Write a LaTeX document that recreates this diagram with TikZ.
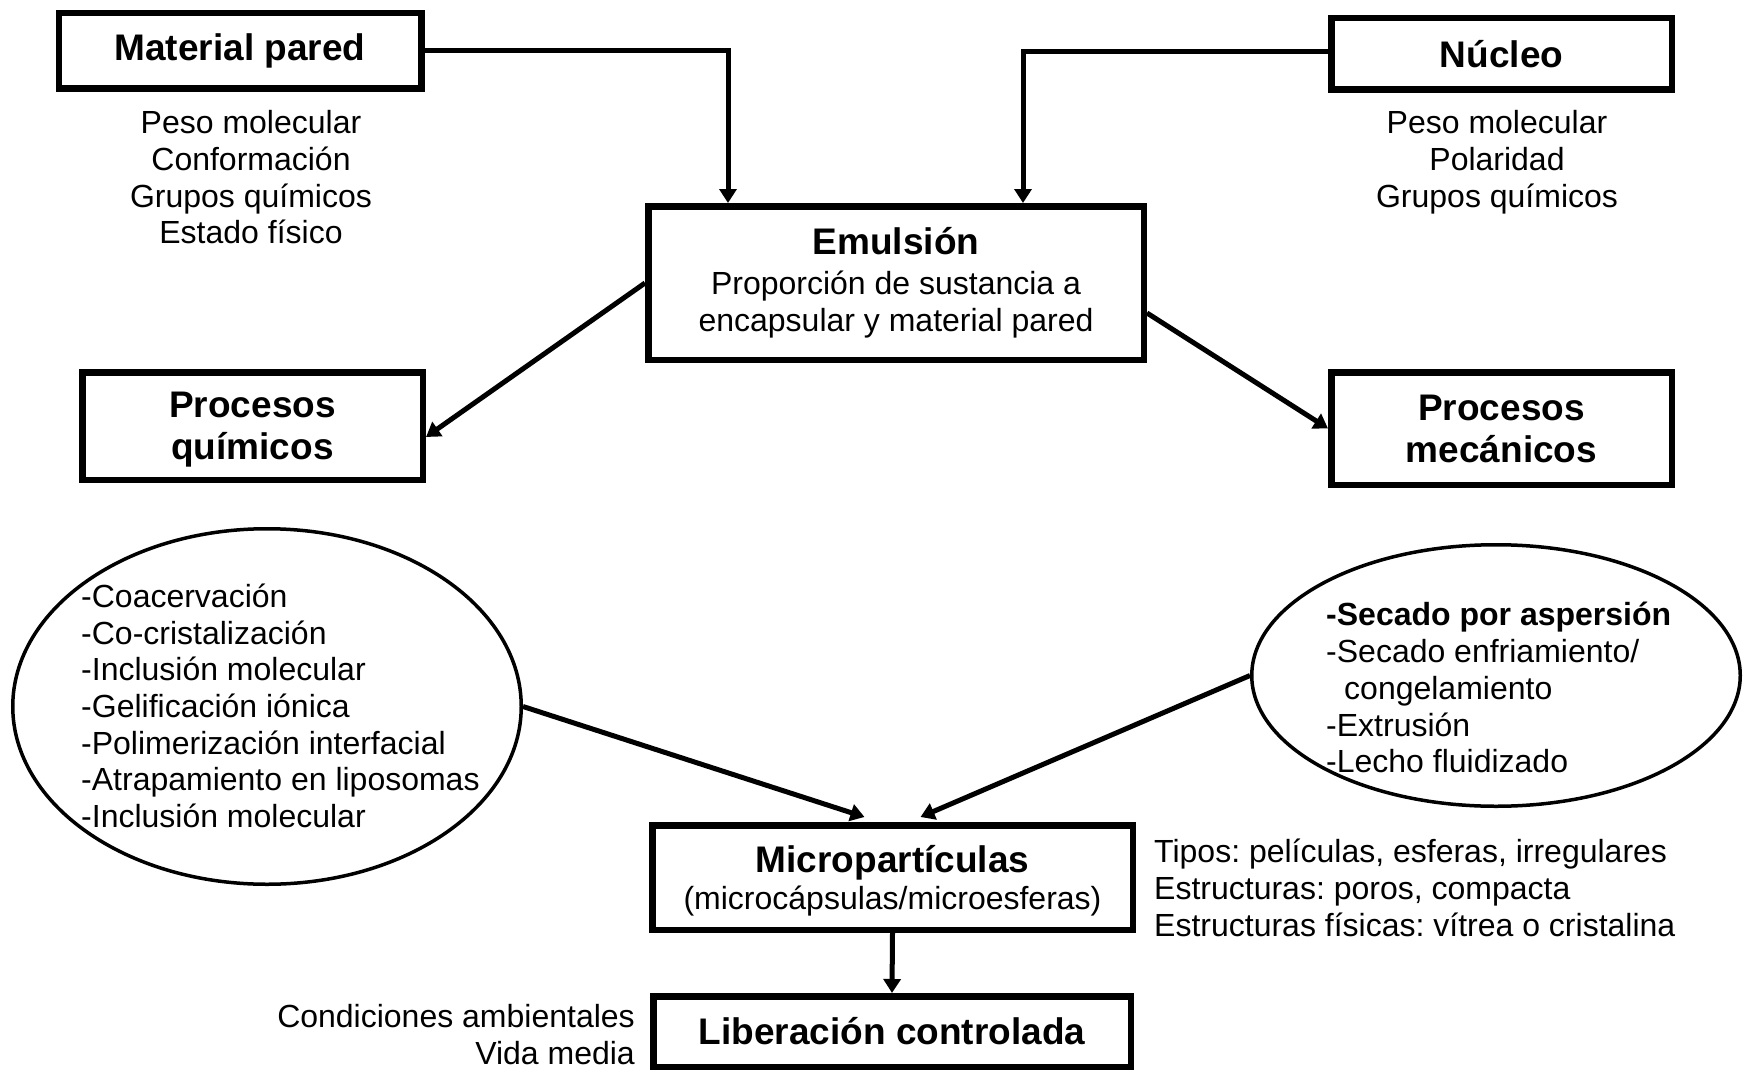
\documentclass[tikz,border=0pt]{standalone}
\usepackage{fontspec}
\setmainfont{Liberation Sans}
\frenchspacing
\usetikzlibrary{arrows.meta,shapes.geometric,calc}
\newcommand{\nodepth}[1]{\raisebox{0pt}[\height][0pt]{#1}}
\begin{document}
\begin{tikzpicture}[x=1pt,y=-1pt,
  box/.style={draw,line width=6.5pt,inner sep=0pt,align=center,font=\fontsize{37}{42}\selectfont\bfseries},
  plain/.style={inner sep=0pt,font=\fontsize{32}{36.7}\selectfont},
  arr/.style={line width=5pt,-{Triangle[length=14pt,width=17pt]}},
  oval/.style={draw,ellipse,line width=3.5pt,inner sep=0pt}]
\useasboundingbox (0,0) rectangle (1743,1070);

% boxes
\node[box,minimum width=362.5pt,minimum height=75.5pt] (mp) at (240,51) {Material pared};
\node[box,minimum width=340.5pt,minimum height=71.5pt] (nu) at (1501.5,54) {Núcleo};
\node[box,minimum width=495.5pt,minimum height=153.5pt] (emu) at (896,283)
  {Emulsión\\[-2pt]{\mdseries\fontsize{32}{36.7}\selectfont Proporción de sustancia a}\\[-5pt]{\mdseries\fontsize{32}{36.7}\selectfont encapsular y material pared}};
\node[box,minimum width=340.5pt,minimum height=107.5pt] (pq) at (252.5,426) {Procesos\\\nodepth{químicos}};
\node[box,minimum width=340.5pt,minimum height=112.5pt] (pm) at (1501.5,428.5) {Procesos\\mecánicos};
\node[box,minimum width=480.5pt,minimum height=104.5pt] (mc) at (892.5,877.5)
  {Micropartículas\\[-5pt]{\mdseries\fontsize{32}{36.7}\selectfont \nodepth{(microcápsulas/microesferas)}}};
\node[box,minimum width=477.5pt,minimum height=70.5pt] (lib) at (892,1031.5) {Liberación controlada};

% ellipses
\node[oval,minimum width=508.5pt,minimum height=355.5pt] (le) at (267,706.5) {};
\node[oval,minimum width=488.5pt,minimum height=261.5pt] (re) at (1496,675.5) {};

% plain texts
\node[plain,align=center] (mpattr) at (251,177.3) {Peso molecular\\Conformación\\Grupos químicos\\Estado físico};
\node[plain,align=center] (nuattr) at (1497,162.4) {Peso molecular\\Polaridad\\Grupos químicos};
\node[plain,align=left,anchor=west] (letxt) at (81,705.8)
  {-Coacervación\\-Co-cristalización\\-Inclusión molecular\\-Gelificación iónica\\-Polimerización interfacial\\-Atrapamiento en liposomas\\-Inclusión molecular};
\node[plain,align=left,anchor=west] (retxt) at (1326,687.8)
  {{\bfseries -Secado por aspersión}\\-Secado enfriamiento/\\\hspace*{18pt}congelamiento\\-Extrusión\\-Lecho fluidizado};
\node[plain,align=left,anchor=west] (mctxt) at (1154,887.7)
  {Tipos: películas, esferas, irregulares\\Estructuras: poros, compacta\\Estructuras físicas: vítrea o cristalina};
\node[plain,align=right,anchor=east] (libtxt) at (635,1034.4) {Condiciones ambientales\\Vida media};

% connectors
\draw[arr] (mp.east) -| ($(emu.north)+(-168,0)$);
\draw[arr] ($(nu.west)+(0,-2)$) -| ($(emu.north)+(127,0)$);
\draw[arr] (emu.west) -- ($(pq.east)+(0,11)$);
\draw[arr] ($(emu.east)+(0,30)$) -- (pm.west);
\draw[arr] (le.east) -- ($(mc.north)+(-28,-5)$);
\draw[arr] (re.west) -- ($(mc.north)+(28,-5)$);
\draw[arr] (mc.south) -- (lib.north);
\end{tikzpicture}
\end{document}
